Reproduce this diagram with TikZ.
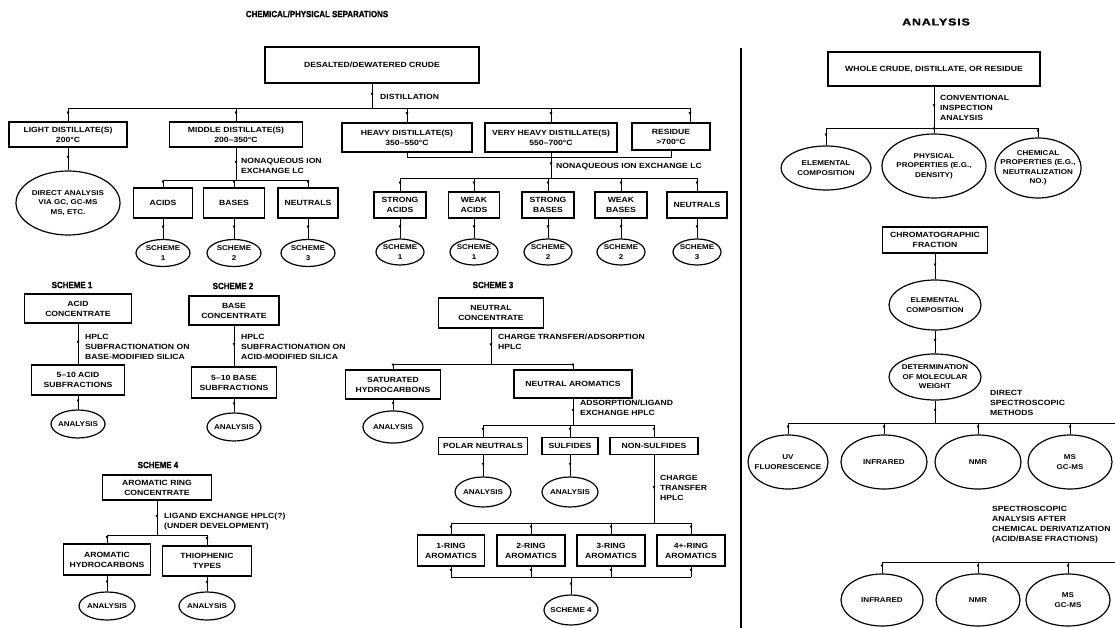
\documentclass[tikz,border=0pt]{standalone}
\usepackage{fontspec}
\setmainfont{Liberation Sans}
\newfontfamily\widefam{Liberation Sans}[FakeStretch=1.15]
\newfontfamily\narrowfam{Liberation Sans}[FakeStretch=0.88, FakeBold=1.2]
\newfontfamily\widestfam{Liberation Sans}[FakeStretch=1.25, LetterSpace=8, FakeBold=1.2]
\usetikzlibrary{arrows.meta,decorations.markings,shapes.geometric}
\newcommand\lblfont{\widefam\bfseries\fontsize{7.5}{10}\selectfont}
\newcommand\elfont{\widefam\bfseries\fontsize{7}{9.5}\selectfont}
\begin{document}
\begin{tikzpicture}[x=1pt,y=-1pt,
  bx/.style={draw, line width=1.2pt, align=center, inner sep=0pt, font=\lblfont},
  el/.style={draw, ellipse, line width=1.2pt, align=center, inner sep=-15pt, font=\elfont},
  lbl/.style={anchor=west, align=left, inner sep=0pt, font=\lblfont},
  ttl/.style={font=\narrowfam\bfseries\fontsize{9}{10}\selectfont},
  ttlw/.style={font=\widestfam\bfseries\fontsize{10}{11}\selectfont},
  sch/.style={font=\narrowfam\bfseries\fontsize{9}{10}\selectfont},
  conn/.style={line width=0.9pt},
  marr/.style={conn, postaction={decorate}, decoration={markings, mark=at position 0.5 with {\arrow{Latex[length=3pt,width=3pt]}}}}
]
\useasboundingbox (0,0) rectangle (1115,628);

% titles
\node[ttl] (t1) at (317,14) {CHEMICAL/PHYSICAL SEPARATIONS};
\node[ttlw] (t2) at (936,22) {ANALYSIS};
\draw[line width=1.3pt] (741,48) -- (741,628);

% ---------- top level ----------
\node[bx, minimum width=214pt, minimum height=36pt] (crude) at (372,65) {DESALTED/DEWATERED CRUDE};
\node[bx, minimum width=118pt, minimum height=25pt] (light) at (68,134.5) {LIGHT DISTILLATE(S)\\200°C};
\node[bx, minimum width=133pt, minimum height=25pt] (middle) at (236,134.5) {MIDDLE DISTILLATE(S)\\200–350°C};
\node[bx, minimum width=130pt, minimum height=29pt] (heavy) at (407,137.5) {HEAVY DISTILLATE(S)\\350–550°C};
\node[bx, minimum width=132pt, minimum height=29pt] (vheavy) at (551,137.5) {VERY HEAVY DISTILLATE(S)\\550–700°C};
\node[bx, minimum width=78pt, minimum height=27pt] (residue) at (671,136.5) {RESIDUE\\>700°C};

\coordinate (b1L) at (68,108);
\coordinate (b1R) at (690,108);
\draw[conn] (b1L) -- (b1R);
\draw[marr] (crude.south) -- (crude.south |- b1L);
\node[lbl] (ldist) at (380,97) {DISTILLATION};
\draw[marr] (b1L) -- (light.north);
\draw[marr] (middle.north |- b1L) -- (middle.north);
\draw[marr] (heavy.north |- b1L) -- (heavy.north);
\draw[marr] (vheavy.north |- b1L) -- (vheavy.north);
\draw[marr] (b1R) -- (b1R |- residue.north);

% light
\node[el, minimum width=104pt, minimum height=64pt] (direct) at (68,203) {DIRECT ANALYSIS\\VIA GC, GC-MS\\MS, ETC.};
\draw[marr] (light.south) -- (direct.north);

% middle
\coordinate (b2L) at (163,180);
\coordinate (b2R) at (308,180);
\draw[marr] (middle.south) -- (middle.south |- b2L);
\node[lbl] (lnaq1) at (241,166) {NONAQUEOUS ION\\EXCHANGE LC};
\draw[conn] (b2L) -- (b2R);
\node[bx, minimum width=59pt, minimum height=30pt] (acids) at (163,203) {ACIDS};
\node[bx, minimum width=61pt, minimum height=30pt] (bases) at (234,203) {BASES};
\node[bx, minimum width=60pt, minimum height=30pt] (neut) at (308,203) {NEUTRALS};
\draw[marr] (acids.north |- b2L) -- (acids.north);
\draw[marr] (bases.north |- b2L) -- (bases.north);
\draw[marr] (neut.north |- b2L) -- (neut.north);
\node[el, minimum width=54pt, minimum height=27pt] (s1a) at (163,253) {SCHEME\\1};
\node[el, minimum width=54pt, minimum height=27pt] (s2a) at (234,253) {SCHEME\\2};
\node[el, minimum width=54pt, minimum height=27pt] (s3a) at (308,253) {SCHEME\\3};
\draw[marr] (acids.south) -- (s1a.north);
\draw[marr] (bases.south) -- (s2a.north);
\draw[marr] (neut.south) -- (s3a.north);

% heavy group
\coordinate (c3L) at (407,157);
\coordinate (b3L) at (400,178);
\coordinate (b3R) at (697,178);
\draw[conn] (heavy.south) -- (heavy.south |- c3L) -- (residue.south |- c3L) -- (residue.south);
\draw[marr] (vheavy.south) -- (vheavy.south |- b3L);
\node[lbl] (lnaq2) at (556,167) {NONAQUEOUS ION EXCHANGE LC};
\draw[conn] (b3L) -- (b3R);
\node[bx, minimum width=52pt, minimum height=26pt] (sacid) at (400,205) {STRONG\\ACIDS};
\node[bx, minimum width=51pt, minimum height=26pt] (wacid) at (474,205) {WEAK\\ACIDS};
\node[bx, minimum width=52pt, minimum height=26pt] (sbase) at (548,205) {STRONG\\BASES};
\node[bx, minimum width=52pt, minimum height=26pt] (wbase) at (621,205) {WEAK\\BASES};
\node[bx, minimum width=60pt, minimum height=26pt] (hneut) at (697,205) {NEUTRALS};
\draw[marr] (b3L) -- (sacid.north);
\draw[marr] (wacid.north |- b3L) -- (wacid.north);
\draw[marr] (sbase.north |- b3L) -- (sbase.north);
\draw[marr] (wbase.north |- b3L) -- (wbase.north);
\draw[marr] (b3R) -- (hneut.north);
\node[el, minimum width=48pt, minimum height=26pt] (s1b) at (400,252) {SCHEME\\1};
\node[el, minimum width=48pt, minimum height=26pt] (s1c) at (474,252) {SCHEME\\1};
\node[el, minimum width=48pt, minimum height=26pt] (s2b) at (548,252) {SCHEME\\2};
\node[el, minimum width=48pt, minimum height=26pt] (s2c) at (621,252) {SCHEME\\2};
\node[el, minimum width=48pt, minimum height=26pt] (s3b) at (697,252) {SCHEME\\3};
\draw[marr] (sacid.south) -- (s1b.north);
\draw[marr] (wacid.south) -- (s1c.north);
\draw[marr] (sbase.south) -- (s2b.north);
\draw[marr] (wbase.south) -- (s2c.north);
\draw[marr] (hneut.south) -- (s3b.north);

% ---------- scheme 1 ----------
\node[sch] (sch1t) at (72,285) {SCHEME 1};
\node[bx, minimum width=107pt, minimum height=29pt] (acidc) at (78,308.5) {ACID\\CONCENTRATE};
\node[bx, minimum width=93pt, minimum height=30pt] (acidsub) at (78,380) {5–10 ACID\\SUBFRACTIONS};
\node[el, minimum width=54pt, minimum height=28pt] (an1) at (78,424) {ANALYSIS};
\draw[marr] (acidc.south) -- (acidsub.north);
\node[lbl] (lhp1) at (85,347) {HPLC\\SUBFRACTIONATION ON\\BASE-MODIFIED SILICA};
\draw[marr] (acidsub.south) -- (an1.north);

% ---------- scheme 2 ----------
\node[sch] (sch2t) at (233,286) {SCHEME 2};
\node[bx, minimum width=90pt, minimum height=29pt] (basec) at (234,310.5) {BASE\\CONCENTRATE};
\node[bx, minimum width=85pt, minimum height=31pt] (basesub) at (234,382.5) {5–10 BASE\\SUBFRACTIONS};
\node[el, minimum width=54pt, minimum height=28pt] (an2) at (234,427) {ANALYSIS};
\draw[marr] (basec.south) -- (basesub.north);
\node[lbl] (lhp2) at (241,347) {HPLC\\SUBFRACTIONATION ON\\ACID-MODIFIED SILICA};
\draw[marr] (basesub.south) -- (an2.north);

% ---------- scheme 3 ----------
\node[sch] (sch3t) at (493,285) {SCHEME 3};
\node[bx, minimum width=105pt, minimum height=30pt] (neutc) at (491,313) {NEUTRAL\\CONCENTRATE};
\coordinate (b4L) at (393,364);
\coordinate (b4R) at (573,364);
\draw[marr] (neutc.south) -- (neutc.south |- b4L);
\node[lbl] (lct) at (498,342) {CHARGE TRANSFER/ADSORPTION\\HPLC};
\draw[conn] (b4L) -- (b4R);
\node[bx, minimum width=95pt, minimum height=29pt] (sat) at (393,384.5) {SATURATED\\HYDROCARBONS};
\node[bx, minimum width=118pt, minimum height=28pt] (naro) at (573,384) {NEUTRAL AROMATICS};
\draw[marr] (b4L) -- (sat.north);
\draw[marr] (b4R) -- (naro.north);
\node[el, minimum width=60pt, minimum height=32pt] (an3) at (393,427) {ANALYSIS};
\draw[marr] (sat.south) -- (an3.north);

\coordinate (b5L) at (483,425);
\coordinate (b5R) at (654,425);
\draw[marr] (naro.south) -- (naro.south |- b5L);
\node[lbl] (lads) at (580,408) {ADSORPTION/LIGAND\\EXCHANGE HPLC};
\draw[conn] (b5L) -- (b5R);
\node[bx, minimum width=89pt, minimum height=17pt] (polar) at (483,446) {POLAR NEUTRALS};
\node[bx, minimum width=56pt, minimum height=17pt] (sulf) at (570,446) {SULFIDES};
\node[bx, minimum width=88pt, minimum height=17pt] (nons) at (654,446) {NON-SULFIDES};
\draw[marr] (b5L) -- (polar.north);
\draw[marr] (sulf.north |- b5L) -- (sulf.north);
\draw[marr] (b5R) -- (nons.north);
\node[el, minimum width=56pt, minimum height=30pt] (an4) at (483,492) {ANALYSIS};
\node[el, minimum width=56pt, minimum height=30pt] (an5) at (570,492) {ANALYSIS};
\draw[marr] (polar.south) -- (an4.north);
\draw[marr] (sulf.south) -- (an5.north);

\coordinate (b6L) at (451,523);
\coordinate (b6R) at (691,523);
\draw[marr] (nons.south) -- (nons.south |- b6L);
\node[lbl] (lct2) at (660,488) {CHARGE\\TRANSFER\\HPLC};
\draw[conn] (b6L) -- (b6R);
\node[bx, minimum width=67pt, minimum height=31pt] (r1) at (451,550.5) {1-RING\\AROMATICS};
\node[bx, minimum width=68pt, minimum height=31pt] (r2) at (531,550.5) {2-RING\\AROMATICS};
\node[bx, minimum width=68pt, minimum height=31pt] (r3) at (611,550.5) {3-RING\\AROMATICS};
\node[bx, minimum width=68pt, minimum height=31pt] (r4) at (691,550.5) {4+-RING\\AROMATICS};
\draw[marr] (b6L) -- (r1.north);
\draw[marr] (r2.north |- b6L) -- (r2.north);
\draw[marr] (r3.north |- b6L) -- (r3.north);
\draw[marr] (b6R) -- (r4.north);
\coordinate (c6L) at (451,577);
\coordinate (c6R) at (691,577);
\draw[conn] (c6L) -- (c6R);
\draw[marr] (r1.south) -- (c6L);
\draw[marr] (r2.south) -- (r2.south |- c6L);
\draw[marr] (r3.south) -- (r3.south |- c6L);
\draw[marr] (r4.south) -- (c6R);
\node[el, minimum width=54pt, minimum height=30pt] (s4) at (571,610) {SCHEME 4};
\draw[marr] (s4.north |- c6L) -- (s4.north);

% ---------- scheme 4 ----------
\node[sch] (sch4t) at (158,465) {SCHEME 4};
\node[bx, minimum width=109pt, minimum height=25pt] (aroc) at (157,487.5) {AROMATIC RING\\CONCENTRATE};
\coordinate (b7L) at (107,535);
\coordinate (b7R) at (207,535);
\draw[marr] (aroc.south) -- (aroc.south |- b7L);
\node[lbl] (llig) at (164,522) {LIGAND EXCHANGE HPLC(?)\\(UNDER DEVELOPMENT)};
\draw[conn] (b7L) -- (b7R);
\node[bx, minimum width=87pt, minimum height=31pt] (aroh) at (107,559.5) {AROMATIC\\HYDROCARBONS};
\node[bx, minimum width=89pt, minimum height=30pt] (thio) at (207,561) {THIOPHENIC\\TYPES};
\draw[marr] (b7L) -- (aroh.north);
\draw[marr] (b7R) -- (thio.north);
\node[el, minimum width=56pt, minimum height=28pt] (an6) at (107,606) {ANALYSIS};
\node[el, minimum width=56pt, minimum height=28pt] (an7) at (207,606) {ANALYSIS};
\draw[marr] (aroh.south) -- (an6.north);
\draw[marr] (thio.south) -- (an7.north);

% ---------- analysis side ----------
\node[bx, minimum width=212pt, minimum height=34pt] (whole) at (934,69) {WHOLE CRUDE, DISTILLATE, OR RESIDUE};
\coordinate (b8L) at (826,128);
\coordinate (b8R) at (1038,128);
\draw[marr] (whole.south) -- (whole.south |- b8L);
\node[lbl] (lconv) at (940,108) {CONVENTIONAL\\INSPECTION\\ANALYSIS};
\draw[conn] (b8L) -- (b8R);
\node[el, minimum width=90pt, minimum height=44pt] (elem1) at (826,168) {ELEMENTAL\\COMPOSITION};
\node[el, minimum width=104pt, minimum height=64pt] (phys) at (934,166) {PHYSICAL\\PROPERTIES (E.G.,\\DENSITY)};
\node[el, minimum width=86pt, minimum height=60pt] (chem) at (1038,168) {CHEMICAL\\PROPERTIES (E.G.,\\NEUTRALIZATION\\NO.)};
\draw[marr] (b8L) -- (elem1.north);
\draw[marr] (phys.north |- b8L) -- (phys.north);
\draw[marr] (b8R) -- (chem.north);

\node[bx, minimum width=105pt, minimum height=26pt] (chrom) at (935,240) {CHROMATOGRAPHIC\\FRACTION};
\node[el, minimum width=92pt, minimum height=50pt] (elem2) at (935,305) {ELEMENTAL\\COMPOSITION};
\node[el, minimum width=92pt, minimum height=46pt] (molw) at (935,377) {DETERMINATION\\OF MOLECULAR\\WEIGHT};
\draw[marr] (chrom.south) -- (elem2.north);
\draw[marr] (elem2.south) -- (molw.north);

\coordinate (b9L) at (788,423);
\coordinate (b9R) at (1115,423);
\draw[marr] (molw.south) -- (molw.south |- b9L);
\node[lbl] (ldir) at (990,403) {DIRECT\\SPECTROSCOPIC\\METHODS};
\draw[conn] (b9L) -- (b9R);
\node[el, minimum width=80pt, minimum height=54pt] (uv) at (788,462) {UV\\FLUORESCENCE};
\node[el, minimum width=86pt, minimum height=54pt] (ir1) at (884,462) {INFRARED};
\node[el, minimum width=86pt, minimum height=54pt] (nmr1) at (978,462) {NMR};
\node[el, minimum width=84pt, minimum height=54pt] (ms1) at (1070,462) {MS\\GC-MS};
\draw[marr] (b9L) -- (uv.north);
\draw[marr] (ir1.north |- b9L) -- (ir1.north);
\draw[marr] (nmr1.north |- b9L) -- (nmr1.north);
\draw[marr] (ms1.north |- b9L) -- (ms1.north);

\node[lbl] (lspec) at (992,525) {SPECTROSCOPIC\\ANALYSIS AFTER\\CHEMICAL DERIVATIZATION\\(ACID/BASE FRACTIONS)};
\coordinate (b10L) at (882,562);
\coordinate (b10R) at (1115,562);
\draw[conn] (b10L) -- (b10R);
\node[el, minimum width=82pt, minimum height=52pt] (ir2) at (882,600) {INFRARED};
\node[el, minimum width=84pt, minimum height=52pt] (nmr2) at (978,600) {NMR};
\node[el, minimum width=84pt, minimum height=52pt] (ms2) at (1068,600) {MS\\GC-MS};
\draw[marr] (b10L) -- (ir2.north);
\draw[marr] (nmr2.north |- b10L) -- (nmr2.north);
\draw[marr] (ms2.north |- b10L) -- (ms2.north);
\end{tikzpicture}
\end{document}
